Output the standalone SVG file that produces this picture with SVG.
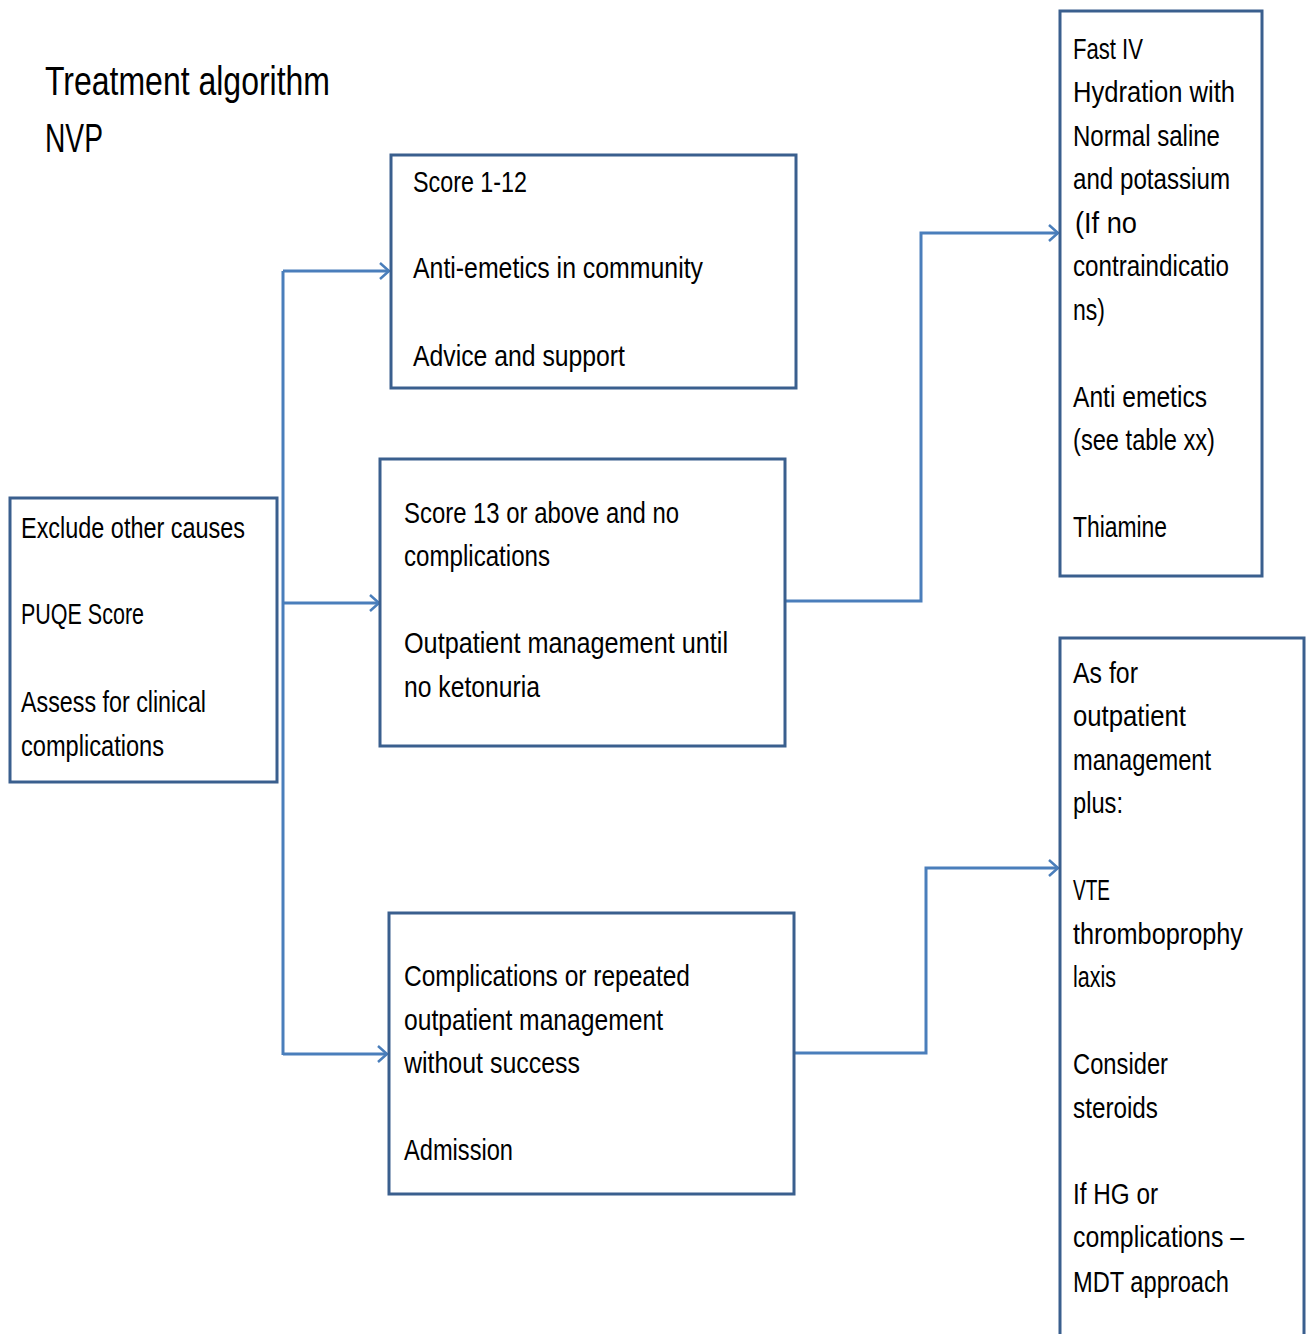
<svg xmlns="http://www.w3.org/2000/svg" width="1311" height="1334" viewBox="0 0 1311 1334">
<defs>
<style>
.box{fill:#fff;stroke:#3A5F8E;stroke-width:3}
.t{font-family:"Liberation Sans",Arial,sans-serif;font-size:30px;fill:#000}
.title{font-family:"Liberation Sans",Arial,sans-serif;font-size:41px;fill:#000}
.conn{fill:none;stroke:#4A7EBB;stroke-width:3}
</style>
<marker id="arr" markerUnits="userSpaceOnUse" markerWidth="16" markerHeight="24" refX="11" refY="10" orient="auto" viewBox="0 0 16 24">
<path d="M2,2 L11,10 L2,18" fill="none" stroke="#4A7EBB" stroke-width="2.5"/>
</marker>
</defs>
<rect width="1311" height="1334" fill="#fff"/>
<g id="title">
<text class="title" x="45" y="95" textLength="285" lengthAdjust="spacingAndGlyphs">Treatment algorithm</text>
<text class="title" x="45" y="152" textLength="58" lengthAdjust="spacingAndGlyphs">NVP</text>
</g>
<g id="connectors">
<path class="conn" d="M283,271 L283,1055"/>
<path class="conn" d="M283,271 L389,271" marker-end="url(#arr)"/>
<path class="conn" d="M283,603 L379,603" marker-end="url(#arr)"/>
<path class="conn" d="M283,1054 L387,1054" marker-end="url(#arr)"/>
<path class="conn" d="M786,601 L921,601 L921,233 L1058,233" marker-end="url(#arr)"/>
<path class="conn" d="M795,1053 L926,1053 L926,868 L1058,868" marker-end="url(#arr)"/>
</g>
<g id="node-start">
<rect class="box" x="10" y="498" width="267" height="284"/>
<text class="t" x="21" y="538" textLength="224" lengthAdjust="spacingAndGlyphs">Exclude  other causes</text>
<text class="t" x="21" y="624" textLength="123" lengthAdjust="spacingAndGlyphs">PUQE Score</text>
<text class="t" x="21" y="712" textLength="185" lengthAdjust="spacingAndGlyphs">Assess for clinical</text>
<text class="t" x="21" y="756" textLength="143" lengthAdjust="spacingAndGlyphs">complications</text>
</g>
<g id="node-score-low">
<rect class="box" x="391" y="155" width="405" height="233"/>
<text class="t" x="413" y="192" textLength="114" lengthAdjust="spacingAndGlyphs">Score 1-12</text>
<text class="t" x="413" y="278" textLength="290" lengthAdjust="spacingAndGlyphs">Anti-emetics  in community</text>
<text class="t" x="413" y="366" textLength="212" lengthAdjust="spacingAndGlyphs">Advice  and support</text>
</g>
<g id="node-score-high">
<rect class="box" x="380" y="459" width="405" height="287"/>
<text class="t" x="404" y="523" textLength="275" lengthAdjust="spacingAndGlyphs">Score 13 or above  and  no</text>
<text class="t" x="404" y="566" textLength="146" lengthAdjust="spacingAndGlyphs">complications</text>
<text class="t" x="404" y="653" textLength="324" lengthAdjust="spacingAndGlyphs">Outpatient  management  until</text>
<text class="t" x="404" y="697" textLength="136" lengthAdjust="spacingAndGlyphs">no ketonuria</text>
</g>
<g id="node-complications">
<rect class="box" x="389" y="913" width="405" height="281"/>
<text class="t" x="404" y="986" textLength="286" lengthAdjust="spacingAndGlyphs">Complications  or repeated</text>
<text class="t" x="404" y="1030" textLength="259" lengthAdjust="spacingAndGlyphs">outpatient management</text>
<text class="t" x="404" y="1073" textLength="176" lengthAdjust="spacingAndGlyphs">without success</text>
<text class="t" x="404" y="1160" textLength="109" lengthAdjust="spacingAndGlyphs">Admission</text>
</g>
<g id="node-outpatient">
<rect class="box" x="1060" y="11" width="202" height="565"/>
<text class="t" x="1073" y="59" textLength="70" lengthAdjust="spacingAndGlyphs">Fast IV</text>
<text class="t" x="1073" y="102" textLength="162" lengthAdjust="spacingAndGlyphs">Hydration  with</text>
<text class="t" x="1073" y="146" textLength="147" lengthAdjust="spacingAndGlyphs">Normal  saline</text>
<text class="t" x="1073" y="189" textLength="157" lengthAdjust="spacingAndGlyphs">and  potassium</text>
<text class="t" x="1075" y="233" textLength="62" lengthAdjust="spacingAndGlyphs">(If no</text>
<text class="t" x="1073" y="276" textLength="156" lengthAdjust="spacingAndGlyphs">contraindicatio</text>
<text class="t" x="1073" y="320" textLength="32" lengthAdjust="spacingAndGlyphs">ns)</text>
<text class="t" x="1073" y="407" textLength="134" lengthAdjust="spacingAndGlyphs">Anti emetics</text>
<text class="t" x="1073" y="450" textLength="142" lengthAdjust="spacingAndGlyphs">(see table xx)</text>
<text class="t" x="1073" y="537" textLength="94" lengthAdjust="spacingAndGlyphs">Thiamine</text>
</g>
<g id="node-admission">
<rect class="box" x="1060" y="638" width="244" height="710"/>
<text class="t" x="1073" y="683" textLength="65" lengthAdjust="spacingAndGlyphs">As for</text>
<text class="t" x="1073" y="726" textLength="113" lengthAdjust="spacingAndGlyphs">outpatient</text>
<text class="t" x="1073" y="770" textLength="138" lengthAdjust="spacingAndGlyphs">management</text>
<text class="t" x="1073" y="813" textLength="50" lengthAdjust="spacingAndGlyphs">plus:</text>
<text class="t" x="1073" y="900" textLength="37" lengthAdjust="spacingAndGlyphs">VTE</text>
<text class="t" x="1073" y="944" textLength="170" lengthAdjust="spacingAndGlyphs">thromboprophy</text>
<text class="t" x="1073" y="987" textLength="43" lengthAdjust="spacingAndGlyphs">laxis</text>
<text class="t" x="1073" y="1074" textLength="95" lengthAdjust="spacingAndGlyphs">Consider</text>
<text class="t" x="1073" y="1118" textLength="85" lengthAdjust="spacingAndGlyphs">steroids</text>
<text class="t" x="1073" y="1204" textLength="85" lengthAdjust="spacingAndGlyphs">If HG or</text>
<text class="t" x="1073" y="1247" textLength="171" lengthAdjust="spacingAndGlyphs">complications  –</text>
<text class="t" x="1073" y="1292" textLength="156" lengthAdjust="spacingAndGlyphs">MDT approach</text>
</g>
</svg>
